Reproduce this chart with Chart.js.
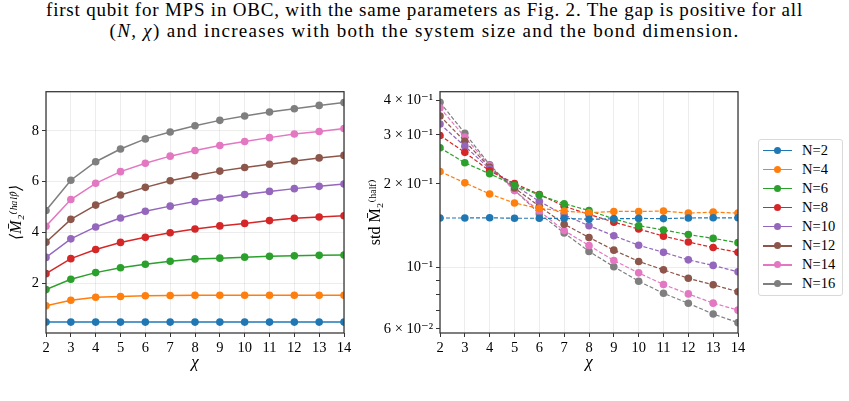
<!DOCTYPE html>
<html>
<head>
<meta charset="utf-8">
<script src="https://cdn.jsdelivr.net/npm/chart.js@4.4.0/dist/chart.umd.min.js"></script>
<style>
  body { margin: 0; width: 849px; height: 401px; overflow: hidden; position: relative; background: #fff; font-family: "Liberation Serif", "DejaVu Serif", serif; color: #000; }
  .cap { position: absolute; left: 0; width: 849px; text-align: center; font-family: "Liberation Serif", serif; font-size: 19px; line-height: 21px; white-space: nowrap; }
  .cap span { display: inline-block; }
  canvas { position: absolute; top: 80px; }
  #left { left: 0; }
  #right { left: 360px; }
  #legend { position: absolute; left: 758px; top: 139px; width: 85px; height: 157px; box-sizing: border-box; border: 1px solid #d9d9d9; border-radius: 3px; background: #fff; }
  .item { position: absolute; left: 0; width: 84px; height: 19px; font-size: 14.5px; line-height: 19px; }
  .item .ln { position: absolute; left: 4px; top: 9px; width: 29px; height: 1.6px; }
  .item .dot { position: absolute; left: 15px; top: 6px; width: 7px; height: 7px; border-radius: 50%; }
  .item .tx { position: absolute; left: 43px; top: 0; }
</style>
</head>
<body>
<div class="cap" style="top:-1px" data-w="757"><span>first qubit for MPS in OBC, with the same parameters as Fig. 2. The gap is positive for all</span></div>
<div class="cap" style="top:20px" data-w="630"><span>(<i>N</i>, <i>χ</i>) and increases with both the system size and the bond dimension.</span></div>
<canvas id="left" width="360" height="300"></canvas>
<canvas id="right" width="392" height="300"></canvas>
<div id="legend"></div>
<script>
// bond dimensions
const chi = [2, 3, 4, 5, 6, 7, 8, 9, 10, 11, 12, 13, 14];
const sizeLabels = ["N=2", "N=4", "N=6", "N=8", "N=10", "N=12", "N=14", "N=16"];
const colors = ["#1f77b4", "#ff7f0e", "#2ca02c", "#d62728", "#9467bd", "#8c564b", "#e377c2", "#7f7f7f"];

// left panel: mean of M2 (half)
const meanN2  = [0.46, 0.46, 0.46, 0.46, 0.46, 0.46, 0.46, 0.46, 0.46, 0.46, 0.46, 0.46, 0.46];
const meanN4  = [1.10, 1.32, 1.44, 1.47, 1.50, 1.51, 1.52, 1.52, 1.52, 1.52, 1.52, 1.52, 1.52];
const meanN6  = [1.74, 2.15, 2.41, 2.60, 2.74, 2.86, 2.95, 2.98, 3.02, 3.05, 3.07, 3.09, 3.10];
const meanN8  = [2.37, 2.96, 3.32, 3.60, 3.80, 3.98, 4.13, 4.25, 4.35, 4.46, 4.55, 4.60, 4.65];
const meanN10 = [3.01, 3.74, 4.21, 4.56, 4.83, 5.03, 5.21, 5.35, 5.49, 5.61, 5.72, 5.81, 5.90];
const meanN12 = [3.61, 4.51, 5.07, 5.47, 5.77, 6.03, 6.23, 6.41, 6.55, 6.68, 6.81, 6.93, 7.03];
const meanN14 = [4.24, 5.29, 5.93, 6.39, 6.72, 7.00, 7.22, 7.42, 7.58, 7.73, 7.87, 7.97, 8.09];
const meanN16 = [4.86, 6.05, 6.78, 7.28, 7.68, 7.95, 8.20, 8.41, 8.58, 8.74, 8.87, 9.00, 9.11];

// right panel: std of M2 (half)
const stdN2  = [0.1505, 0.1505, 0.1508, 0.1502, 0.1502, 0.1500, 0.1490, 0.1495, 0.1500, 0.1498, 0.1505, 0.1508, 0.1508];
const stdN4  = [0.2213, 0.2015, 0.1837, 0.1704, 0.1630, 0.1594, 0.1572, 0.1589, 0.1589, 0.1594, 0.1568, 0.1580, 0.1568];
const stdN6  = [0.2695, 0.2379, 0.2172, 0.1976, 0.1820, 0.1695, 0.1602, 0.1494, 0.1412, 0.1363, 0.1312, 0.1271, 0.1227];
const stdN8  = [0.2985, 0.2594, 0.2225, 0.2004, 0.1830, 0.1660, 0.1551, 0.1454, 0.1374, 0.1295, 0.1234, 0.1178, 0.1132];
const stdN10 = [0.3280, 0.2731, 0.2262, 0.1976, 0.1728, 0.1543, 0.1412, 0.1299, 0.1201, 0.1132, 0.1064, 0.1016, 0.0963];
const stdN12 = [0.3508, 0.2843, 0.2293, 0.1930, 0.1660, 0.1430, 0.1281, 0.1153, 0.1050, 0.0979, 0.0913, 0.0865, 0.0817];
const stdN14 = [0.3752, 0.2944, 0.2320, 0.1889, 0.1594, 0.1356, 0.1198, 0.1058, 0.0955, 0.0867, 0.0802, 0.0743, 0.0701];
const stdN16 = [0.3927, 0.3040, 0.2342, 0.1898, 0.1560, 0.1330, 0.1141, 0.1005, 0.0891, 0.0806, 0.0742, 0.0679, 0.0632];

// tick labels
const leftYTicks = [2, 4, 6, 8];
const rightYTicks = [0.06, 0.07, 0.08, 0.09, 0.1, 0.2, 0.3, 0.4];
const rightYLabels = ["6 × 10⁻²", "", "", "", "10⁻¹", "2 × 10⁻¹", "3 × 10⁻¹", "4 × 10⁻¹"];

const means = [meanN2, meanN4, meanN6, meanN8, meanN10, meanN12, meanN14, meanN16];
const stds = [stdN2, stdN4, stdN6, stdN8, stdN10, stdN12, stdN14, stdN16];

const serif = "'Liberation Serif', 'DejaVu Serif', serif";
const tickFont = { family: serif, size: 14.5 };

// widen caption lines (Computer Modern runs wider than Times)
document.querySelectorAll(".cap").forEach((d) => {
  const s = d.querySelector("span");
  const n = s.textContent.length;
  const extra = Number(d.dataset.w) - s.getBoundingClientRect().width;
  s.style.letterSpacing = (extra / n) + "px";
});

const frame = {
  id: "frame",
  afterDraw(chart) {
    const { ctx, chartArea: a } = chart;
    ctx.save();
    ctx.strokeStyle = "#3a3a3a";
    ctx.lineWidth = 1.3;
    ctx.strokeRect(a.left, a.top, a.right - a.left, a.bottom - a.top);
    ctx.restore();
  },
};

function makeSets(series, dashed) {
  return series.map((vals, i) => ({
    label: sizeLabels[i],
    data: chi.map((c, j) => ({ x: c, y: vals[j] })),
    borderColor: colors[i],
    backgroundColor: colors[i],
    pointBackgroundColor: colors[i],
    borderWidth: dashed ? 1.2 : 1.5,
    borderDash: dashed ? [4, 2] : [],
    pointRadius: 3.8,
    pointBorderWidth: 0,
    tension: 0,
    fill: false,
    clip: 0,
  }));
}

function xAxis() {
  return {
    type: "linear",
    min: 2,
    max: 14,
    afterBuildTicks: (ax) => { ax.ticks = chi.map((v) => ({ value: v })); },
    afterFit: (ax) => { ax.height = 47; },
    ticks: { font: tickFont, color: "#000", padding: 2, maxRotation: 0, autoSkip: false },
    grid: { color: "rgba(0,0,0,0.09)", lineWidth: 0.8, tickColor: "#000", tickLength: 4 },
    border: { display: false },
    title: { display: true, text: "χ", font: { family: serif, size: 17, style: "italic" }, color: "#000", padding: { top: 0, bottom: 7 } },
  };
}

new Chart(document.getElementById("left"), {
  type: "line",
  data: { datasets: makeSets(means, false) },
  options: {
    responsive: false,
    animation: false,
    layout: { padding: { top: 6, right: 16, left: 0, bottom: 0 } },
    plugins: { legend: { display: false }, tooltip: { enabled: false } },
    scales: {
      x: xAxis(),
      y: {
        type: "linear",
        min: 0.03,
        max: 9.54,
        afterBuildTicks: (ax) => { ax.ticks = leftYTicks.map((v) => ({ value: v })); },
        afterFit: (ax) => { ax.width = 46; },
        ticks: { font: tickFont, color: "#000", padding: 3 },
        grid: { color: "rgba(0,0,0,0.09)", lineWidth: 0.8, tickColor: "#000", tickLength: 4 },
        border: { display: false },
        title: { display: true, text: "⟨M̄₂⁽ʰᵃˡᶠ⁾⟩", font: { family: serif, size: 16, style: "italic" }, color: "#000", padding: { top: 7, bottom: 0 } },
      },
    },
  },
  plugins: [frame],
});

new Chart(document.getElementById("right"), {
  type: "line",
  data: { datasets: makeSets(stds, true) },
  options: {
    responsive: false,
    animation: false,
    layout: { padding: { top: 6, right: 14, left: 0, bottom: 0 } },
    plugins: { legend: { display: false }, tooltip: { enabled: false } },
    scales: {
      x: xAxis(),
      y: {
        type: "logarithmic",
        min: 0.058,
        max: 0.429,
        afterBuildTicks: (ax) => { ax.ticks = rightYTicks.map((v) => ({ value: v })); },
        afterFit: (ax) => { ax.width = 80; },
        ticks: {
          font: tickFont,
          color: "#000",
          padding: 3,
          autoSkip: false,
          callback: (v) => {
            const k = rightYTicks.findIndex((t) => Math.abs(t - v) < 1e-9);
            return k >= 0 ? rightYLabels[k] : "";
          },
        },
        grid: {
          color: (c) => (c.tick && Math.abs(c.tick.value - 0.1) < 1e-9 ? "rgba(0,0,0,0.09)" : "rgba(0,0,0,0)"),
          lineWidth: 0.8,
          tickColor: "#000",
          tickLength: 4,
        },
        border: { display: false },
        title: { display: true, text: "std M̄₂⁽ʰᵃˡᶠ⁾", font: { family: serif, size: 16 }, color: "#000", padding: { top: 6, bottom: 0 } },
      },
    },
  },
  plugins: [frame],
});

// legend
const legend = document.getElementById("legend");
sizeLabels.forEach((name, i) => {
  const it = document.createElement("div");
  it.className = "item";
  it.style.top = (0.5 + i * 19.1) + "px";
  it.innerHTML = '<span class="ln" style="background:' + colors[i] + '"></span>' +
    '<span class="dot" style="background:' + colors[i] + '"></span>' +
    '<span class="tx">' + name + "</span>";
  legend.appendChild(it);
});
</script>
</body>
</html>
